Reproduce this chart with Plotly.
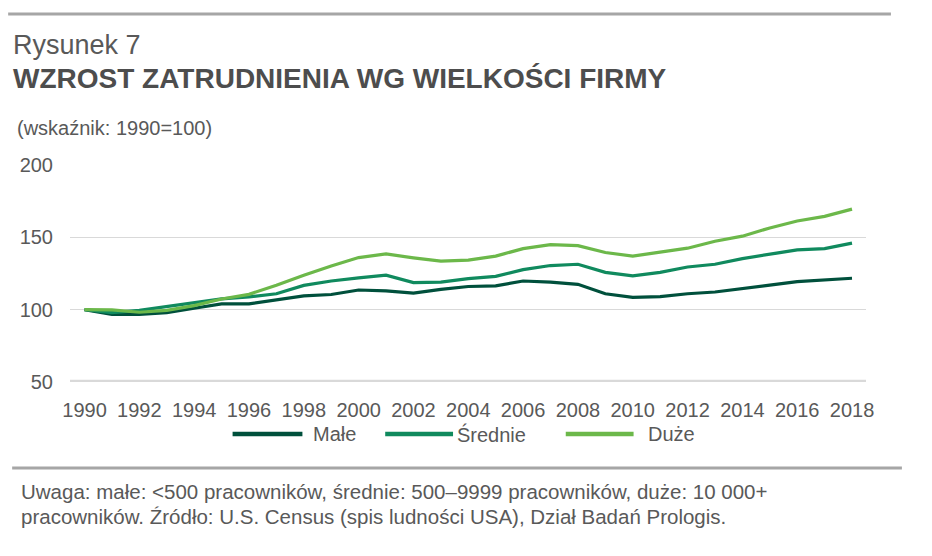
import plotly.graph_objects as go

years = list(range(1990, 2019))
male = [100, 96.8, 96.8, 98, 101, 104, 104, 107, 109.5, 110.5, 113.6, 113, 111.5, 114,
        116, 116.4, 119.8, 119, 117.5, 111, 108.5, 109, 111, 112.2, 114.8, 117, 119.4, 120.3, 121.7]
srednie = [100, 98, 99.5, 102, 105, 107.4, 108.8, 111, 116.8, 119.8, 122, 123.8, 118.7, 119,
           121.5, 123, 127.7, 130.5, 131.4, 125.8, 123.3, 125.8, 129.5, 131.4, 135.3, 138.3, 141.3, 142.2, 146]
duze = [100, 99.8, 98.2, 99.5, 102.8, 107.4, 110.6, 116.8, 123.8, 130.2, 136, 138.5, 135.8, 133.5,
        134.2, 137, 142.2, 145, 144.3, 139.5, 137, 140, 142.5, 147.3, 150.8, 156.5, 161.3, 164.5, 169.5]

series_names = ["Małe", "Średnie", "Duże"]
colors = ["#00503c", "#108a5e", "#6cb84a"]
tick_years = list(range(1990, 2019, 2))

FONT = "Liberation Sans, Arial, sans-serif"
TXT = "#595959"

# page has an 8px body margin, so work in page pixels and shift
OFF = 8
W, H = 932, 556
L, R, T, B = 68 - OFF, 66 + OFF, 165 - OFF, 174 + OFF
PW, PH = W - L - R, H - T - B


def px(x):
    return (x - OFF - L) / PW


def py(y):
    return (H - B - (y - OFF)) / PH


fig = go.Figure()
for name, vals, c in zip(series_names, [male, srednie, duze], colors):
    fig.add_trace(go.Scatter(x=years, y=vals, mode="lines", name=name,
                             line=dict(color=c, width=3.2), showlegend=False))

# thick baseline at 50 (traces never reach it, so draw on top of the grid)
fig.add_shape(type="line", xref="paper", yref="y", x0=0, x1=1, y0=50, y1=50,
              line=dict(color="#d9d9d9", width=4.5), layer="above")

# top and bottom rules
fig.add_shape(type="line", xref="paper", yref="paper", x0=px(6), x1=px(891), y0=py(14), y1=py(14),
              line=dict(color="#a6a6a6", width=3))
fig.add_shape(type="line", xref="paper", yref="paper", x0=px(10), x1=px(902), y0=py(468), y1=py(468),
              line=dict(color="#a6a6a6", width=3))

# legend (drawn by hand to match long swatches)
leg = [(231, 301, 310), (384, 452, 454), (565, 633, 645)]
for (x0, x1, tx), name, c in zip(leg, series_names, colors):
    fig.add_shape(type="line", xref="paper", yref="paper", x0=px(x0), x1=px(x1), y0=py(434), y1=py(434),
                  line=dict(color=c, width=4.5))
    fig.add_annotation(xref="paper", yref="paper", x=px(tx), y=py(434), text=name, showarrow=False,
                       xanchor="left", yanchor="middle", font=dict(family=FONT, size=20, color=TXT))

texts = [
    (9, 45, "Rysunek 7", 27, "#595959"),
    (9, 79, "<b>WZROST ZATRUDNIENIA WG WIELKOŚCI FIRMY</b>", 28, "#4d4d4d"),
    (13, 128, "(wskaźnik: 1990=100)", 20, TXT),
    (17, 491, "Uwaga: małe: &lt;500 pracowników, średnie: 500–9999 pracowników, duże: 10 000+", 20.5, TXT),
    (17, 516, "pracowników. Źródło: U.S. Census (spis ludności USA), Dział Badań Prologis.", 20.5, TXT),
]
for x, y, t, s, c in texts:
    fig.add_annotation(xref="paper", yref="paper", x=px(x), y=py(y), text=t, showarrow=False,
                       xanchor="left", yanchor="middle", font=dict(family=FONT, size=s, color=c))

fig.update_layout(
    width=W, height=H,
    margin=dict(l=L, r=R, t=T, b=B),
    paper_bgcolor="white", plot_bgcolor="white",
    font=dict(family=FONT, color=TXT),
    xaxis=dict(range=[1989.47, 2018.51], tickvals=tick_years, showgrid=False, zeroline=False,
               showline=False, ticks="", tickfont=dict(size=20, color=TXT), ticklabelstandoff=14),
    yaxis=dict(range=[50, 200], tickvals=[50, 100, 150, 200], showgrid=True, gridcolor="#d9d9d9",
               gridwidth=1, zeroline=False, showline=False, ticks="",
               tickfont=dict(size=20, color=TXT), ticklabelstandoff=16),
)

fig.write_html("out.html")
